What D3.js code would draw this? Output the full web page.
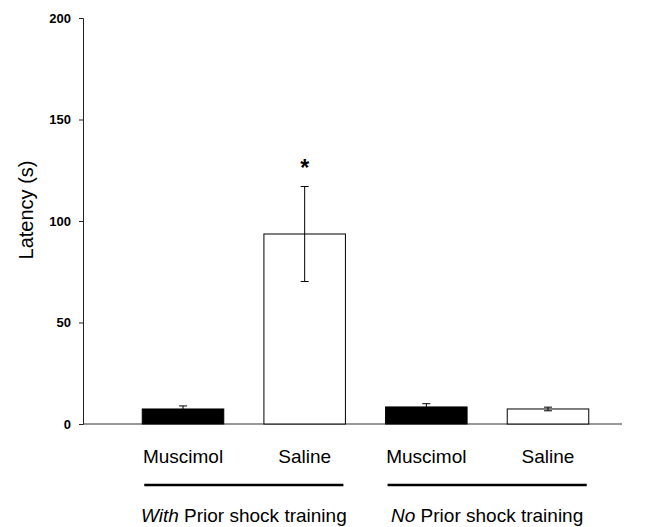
<!DOCTYPE html>
<html>
<head>
<meta charset="utf-8">
<script src="https://cdn.jsdelivr.net/npm/d3@7"></script>
<style>
  body { margin: 0; background: #fff; }
  svg { font-family: "Liberation Sans", Arial, sans-serif; }
</style>
</head>
<body>
<svg id="chart" width="651" height="527"></svg>
<script>
// data
var labels = ["Muscimol", "Saline", "Muscimol", "Saline"];
var latency = [7.4, 93.6, 8.4, 7.4];
var sem = [1.5, 23.4, 1.6, 0.9];
var drug = ["muscimol", "saline", "muscimol", "saline"];
var groups = [
    { first: "With", rest: " Prior shock training", from: 0, to: 1 },
    { first: "No", rest: " Prior shock training", from: 2, to: 3 }
];
var yTicks = [0, 50, 100, 150, 200];
var significant = [false, true, false, false];

var svg = d3.select("#chart");
var margin = { top: 18, left: 83, bottom: 103, right: 3 };
var width = 651, height = 527;
var axisEnd = 622;

var x = d3.scaleBand()
    .domain(d3.range(labels.length))
    .range([margin.left, width - margin.right])
    .paddingInner(0.33)
    .paddingOuter(0.487);

var y = d3.scaleLinear().domain([0, 200]).range([height - margin.bottom, margin.top]);

// y axis
var yAxis = d3.axisLeft(y).tickValues(yTicks).tickSize(4).tickPadding(8);
var gy = svg.append("g")
    .attr("transform", "translate(" + margin.left + ",0)")
    .call(yAxis);
gy.select(".domain").attr("stroke", "#222");
gy.selectAll(".tick line").attr("stroke", "#222");
gy.selectAll("text")
    .style("font-size", "13px")
    .style("font-weight", "bold")
    .attr("fill", "#000");

// x axis line, no ticks
svg.append("line")
    .attr("x1", margin.left).attr("x2", axisEnd)
    .attr("y1", y(0)).attr("y2", y(0))
    .attr("stroke", "#333")
    .attr("stroke-width", 1);

// bars
svg.selectAll(".bar")
    .data(latency)
    .enter().append("rect")
    .attr("class", "bar")
    .attr("x", function (d, i) { return x(i); })
    .attr("y", function (d) { return y(d); })
    .attr("width", x.bandwidth())
    .attr("height", function (d) { return y(0) - y(d); })
    .attr("fill", function (d, i) { return drug[i] == "muscimol" ? "#000" : "#fff"; })
    .attr("stroke", "#000")
    .attr("stroke-width", 1);

// error bars
var err = svg.append("g").attr("stroke", "#000").attr("stroke-width", 1);
latency.forEach(function (d, i) {
    var cx = x(i) + x.bandwidth() / 2;
    err.append("line")
        .attr("x1", cx).attr("x2", cx)
        .attr("y1", y(d - sem[i])).attr("y2", y(d + sem[i]));
    [d - sem[i], d + sem[i]].forEach(function (v) {
        err.append("line")
            .attr("x1", cx - 4).attr("x2", cx + 4)
            .attr("y1", y(v)).attr("y2", y(v));
    });
});

// significance star
svg.selectAll(".star")
    .data(latency)
    .enter().filter(function (d, i) { return significant[i]; })
    .append("text")
    .attr("class", "star")
    .attr("x", function (d, i) { return x(latency.indexOf(d)) + x.bandwidth() / 2; })
    .attr("y", function (d) { return y(d + sem[latency.indexOf(d)]) - 10; })
    .attr("text-anchor", "middle")
    .style("font-size", "23px")
    .style("font-weight", "bold")
    .text("*");

// category labels
svg.selectAll(".cat")
    .data(labels)
    .enter().append("text")
    .attr("class", "cat")
    .attr("x", function (d, i) { return x(i) + x.bandwidth() / 2; })
    .attr("y", 463)
    .attr("text-anchor", "middle")
    .style("font-size", "19px")
    .text(function (d) { return d; });

// group underlines and labels
groups.forEach(function (g) {
    var x0 = x(g.from) + 2, x1 = x(g.to) + x.bandwidth() - 2;
    svg.append("line")
        .attr("x1", x0).attr("x2", x1)
        .attr("y1", 485).attr("y2", 485)
        .attr("stroke", "#000")
        .attr("stroke-width", 2.5);
    var t = svg.append("text")
        .attr("x", (x0 + x1) / 2)
        .attr("y", 522)
        .attr("text-anchor", "middle")
        .style("font-size", "19px");
    t.append("tspan").style("font-style", "italic").text(g.first);
    t.append("tspan").text(g.rest);
});

// axis title
svg.append("text")
    .attr("transform", "translate(33," + 210 + "), rotate(-90)")
    .attr("text-anchor", "middle")
    .style("font-size", "20px")
    .text("Latency (s)");
</script>
</body>
</html>
